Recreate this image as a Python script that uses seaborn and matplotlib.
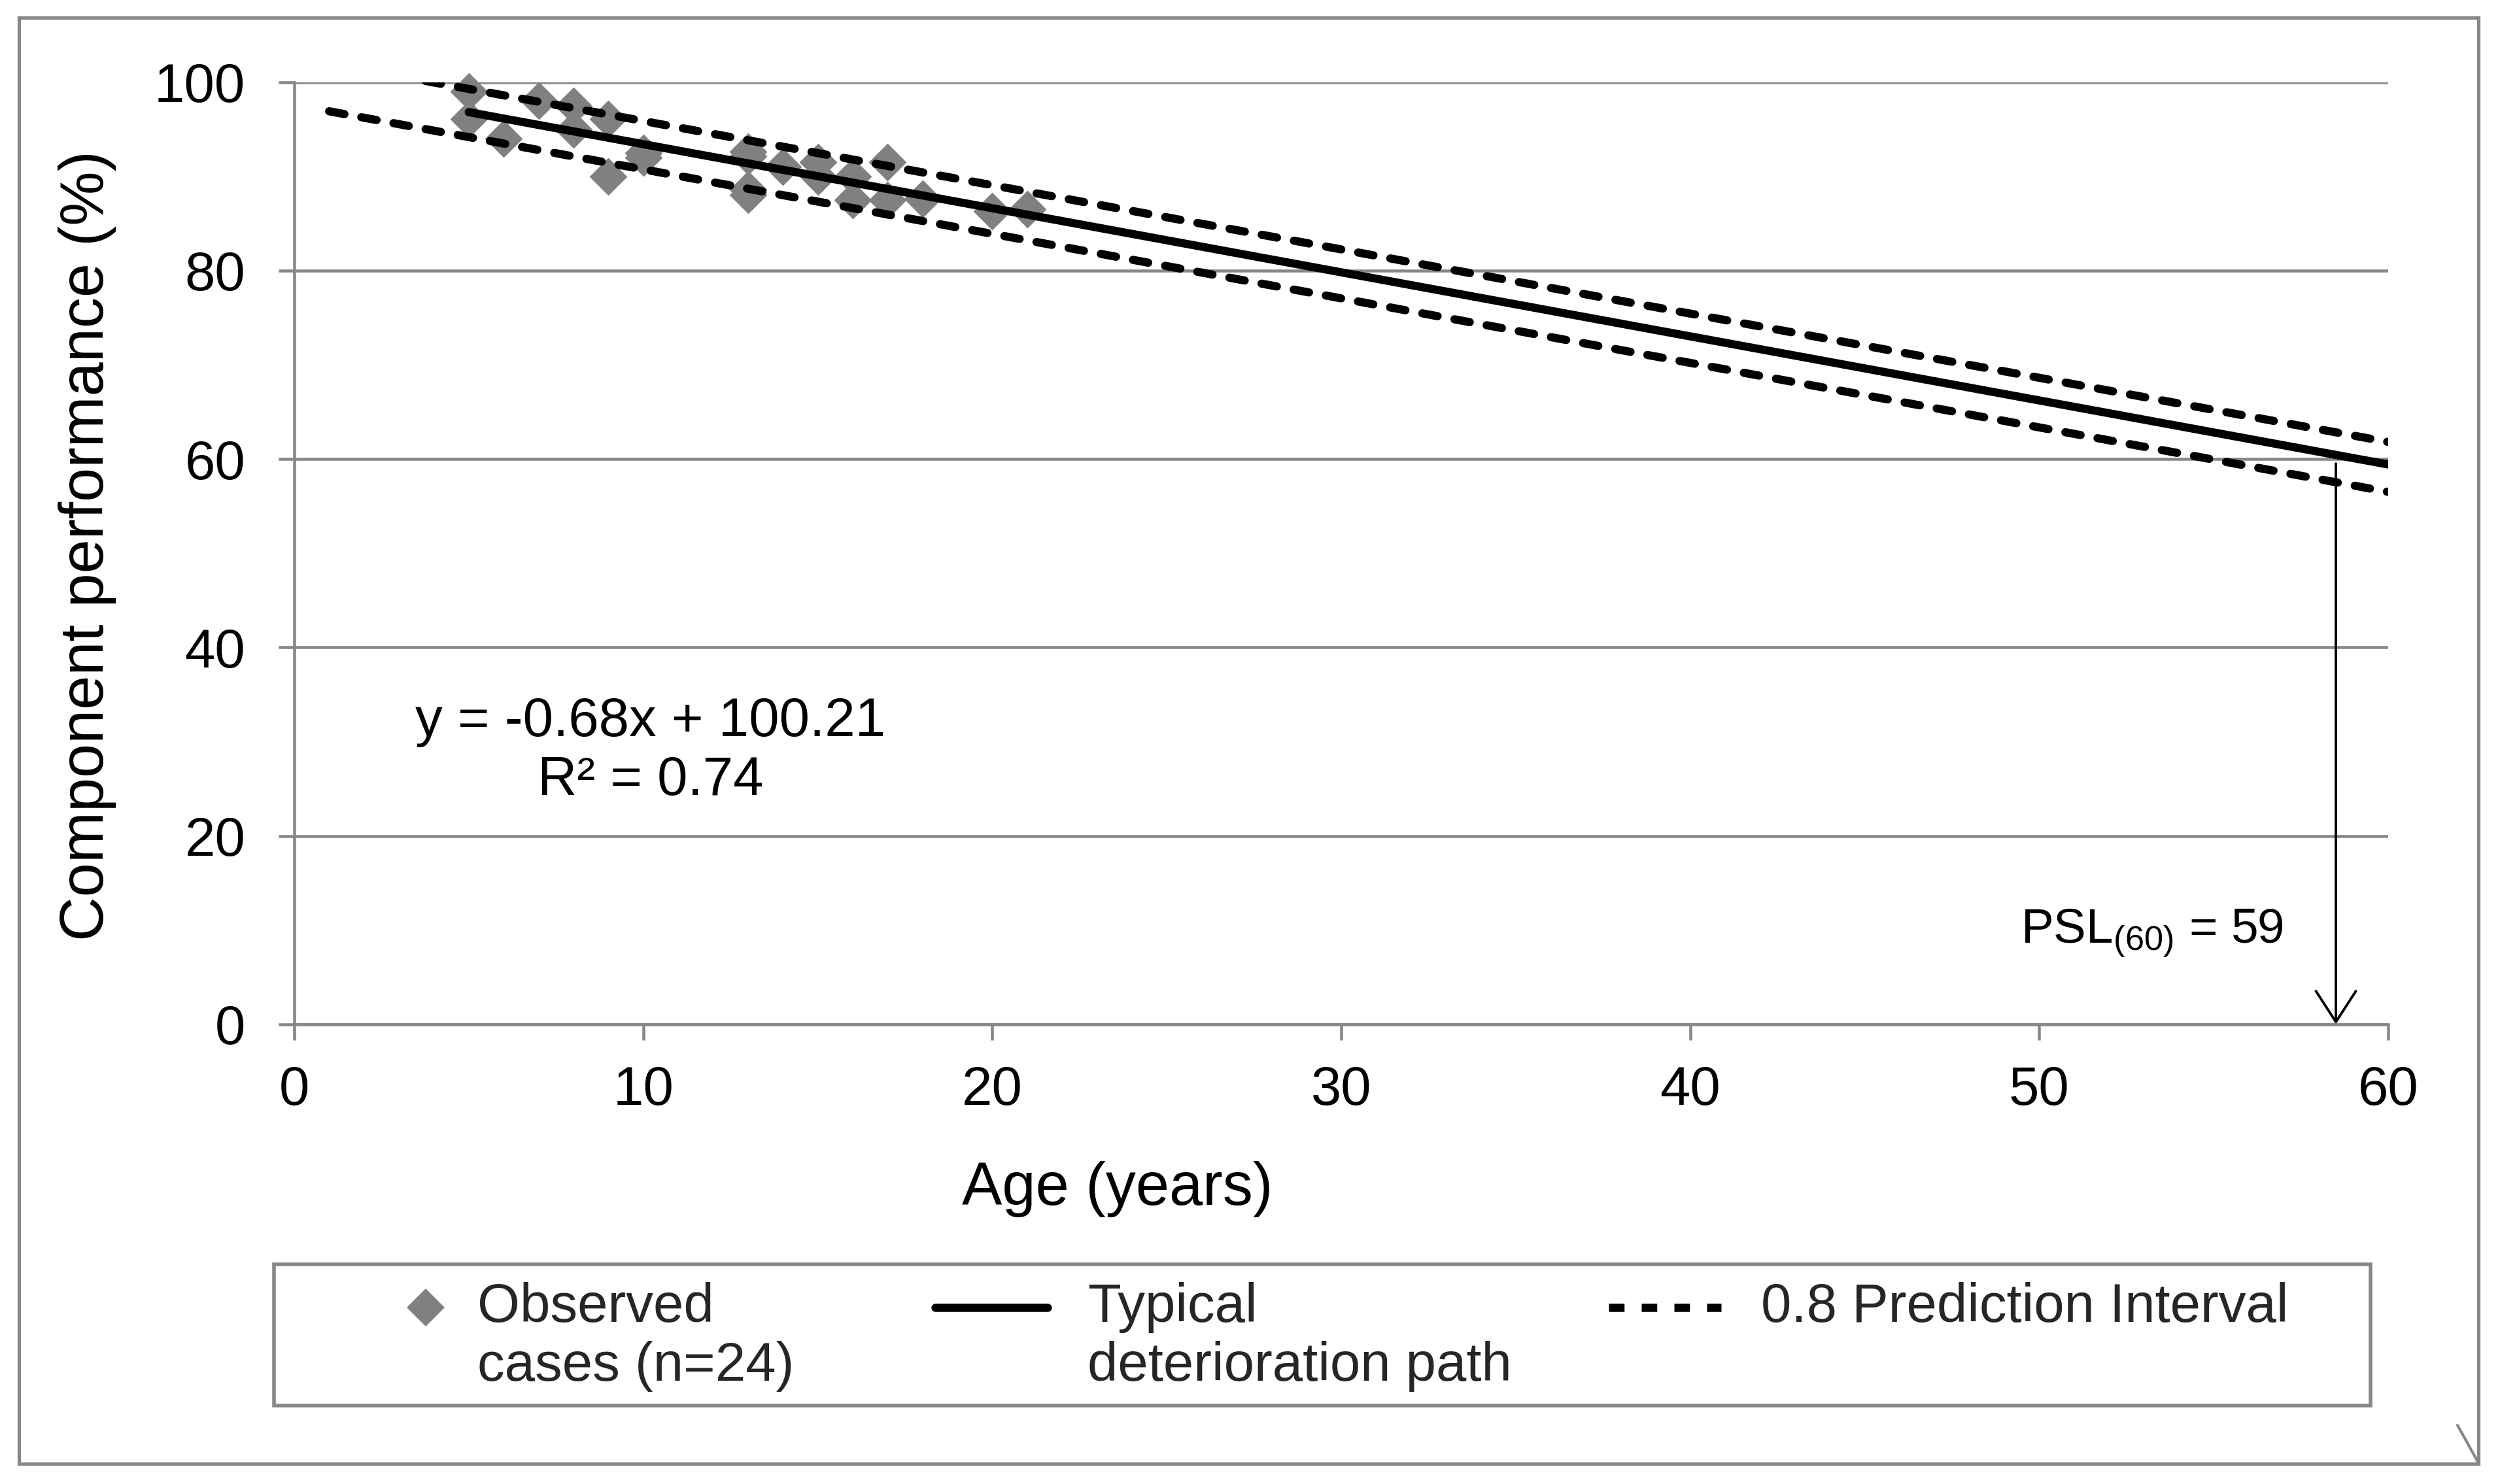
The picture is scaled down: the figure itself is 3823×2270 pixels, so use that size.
import numpy as np
import pandas as pd
import seaborn as sns
import matplotlib.pyplot as plt
from matplotlib.lines import Line2D
from matplotlib.patches import Rectangle

# observed cases (n=24)
age = [5, 5, 6, 7, 8, 8, 9, 9, 10, 10, 13, 13, 13, 13, 14, 15, 15, 16, 16, 17, 17, 18, 20, 21]
performance = [99.0, 96.1, 94.0, 98.0, 97.5, 95.0, 96.1, 90.0, 92.5, 92.0, 92.6, 92.1,
               88.6, 88.0, 91.0, 91.5, 90.0, 90.0, 87.5, 91.5, 87.5, 87.6, 86.3, 86.5]

# typical deterioration path (stated trend line)
fit_slope = -0.68
fit_intercept = 100.21
fit_age = [5, 60]

# 0.8 prediction interval
band_age = [1, 60]
band_upper = [102.0, 61.8]
band_lower = [96.9, 56.5]

# predicted service life marker
psl_age = 58.5
psl_value = 59.5

x_ticks = [0, 10, 20, 30, 40, 50, 60]
y_ticks = [0, 20, 40, 60, 80, 100]

GRAY = '#878787'
MARK = '#808080'

sns.set_theme(style='white')
plt.rcParams['font.family'] = ['Liberation Sans', 'DejaVu Sans']
plt.rcParams['mathtext.fontset'] = 'custom'
plt.rcParams['mathtext.rm'] = 'Liberation Sans'
plt.rcParams['mathtext.it'] = 'Liberation Sans:italic'

fig = plt.figure(figsize=(15.292, 9.08), dpi=250)
ax = fig.add_axes([0.1177, 0.3098, 0.8376, 0.6349])

obs = pd.DataFrame({'age': age, 'performance': performance})
sns.scatterplot(data=obs, x='age', y='performance', marker='D', s=139, color=MARK,
                linewidth=0, ax=ax, zorder=3, clip_on=False)

fit_y = [fit_intercept + fit_slope * a for a in fit_age]
sns.lineplot(x=fit_age, y=fit_y, color='black', linewidth=3.6, ax=ax, zorder=4,
             solid_capstyle='round')
for band in (band_upper, band_lower):
    sns.lineplot(x=band_age, y=band, color='black', linewidth=3.6, ax=ax, zorder=4,
                 linestyle=(0, (1.9, 2.1)), dash_capstyle='round')

ax.set_xlim(0, 60)
ax.set_ylim(0, 100)
ax.set_xticks(x_ticks)
ax.set_yticks(y_ticks)
ax.yaxis.grid(True, color=GRAY, linewidth=1.3)
ax.xaxis.grid(False)
ax.set_axisbelow(True)
for side in ['top', 'right']:
    ax.spines[side].set_visible(False)
for side in ['left', 'bottom']:
    ax.spines[side].set_color(GRAY)
    ax.spines[side].set_linewidth(1.3)
ax.tick_params(axis='both', which='major', bottom=True, left=True, length=7, width=1.3,
               color=GRAY, direction='out', labelsize=24, labelcolor='black')
ax.tick_params(axis='y', pad=14.5)
ax.tick_params(axis='x', pad=11)

ax.set_xlabel('Age (years)', fontsize=26.5, color='black')
ax.set_ylabel('Component performance (%)', fontsize=27, color='black')
ax.xaxis.set_label_coords(0.393, -0.145)
ax.yaxis.set_label_coords(-0.085, 0.508)

ax.text(10.2, 29.0, 'y = -0.68x + 100.21\nR² = 0.74', ha='center', va='center',
        fontsize=24, linespacing=1.2, multialignment='center', color='black')
ax.text(57.0, 8.6, r'PSL$_{(60)}$ = 59', ha='right', va='baseline', fontsize=21.5, color='black')
ax.annotate('', xy=(psl_age, 0), xytext=(psl_age, psl_value),
            arrowprops=dict(arrowstyle='->,head_length=0.68,head_width=0.44', color='black',
                            lw=1.1, shrinkA=0, shrinkB=0, mutation_scale=20))

handles = [
    Line2D([], [], marker='D', color=MARK, markersize=11.8, linestyle='none', markeredgewidth=0),
    Line2D([], [], color='black', linewidth=3.6),
    Line2D([], [], color='black', linewidth=3.6, linestyle=(0, (1.9, 2.1))),
]
labels = ['Observed\ncases (n=24)', 'Typical\ndeterioration path', '0.8 Prediction Interval\n ']
leg = fig.legend(handles, labels, loc='center', bbox_to_anchor=(0.1478, 0.0991, 0.7675, 0.0),
                 bbox_transform=fig.transFigure, mode='expand', ncol=3, frameon=False,
                 fontsize=24, handlelength=2.06, handletextpad=0.73, borderpad=0,
                 borderaxespad=0)
# legend keys sit on the first text line
for line in leg.get_lines():
    line.set_ydata(np.asarray(line.get_ydata(), dtype=float) + 13.4)
# marker-only key is narrower in the original, so its text starts closer
leg.get_texts()[0].set_x(-68)

# legend box and outer chart border
fig.add_artist(Rectangle((0.1096, 0.0529), 0.8386, 0.0951, transform=fig.transFigure,
                         fill=False, edgecolor=GRAY, linewidth=1.6))
fig.add_artist(Rectangle((0.00759, 0.01366), 0.98378, 0.97444, transform=fig.transFigure,
                         fill=False, edgecolor=GRAY, linewidth=1.5))
fig.add_artist(Line2D([3758 / 3823, 3789 / 3823], [1 - 2180 / 2270, 1 - 2236 / 2270],
                      transform=fig.transFigure, color=GRAY, linewidth=1.2))

fig.savefig('out.png', dpi=250)
